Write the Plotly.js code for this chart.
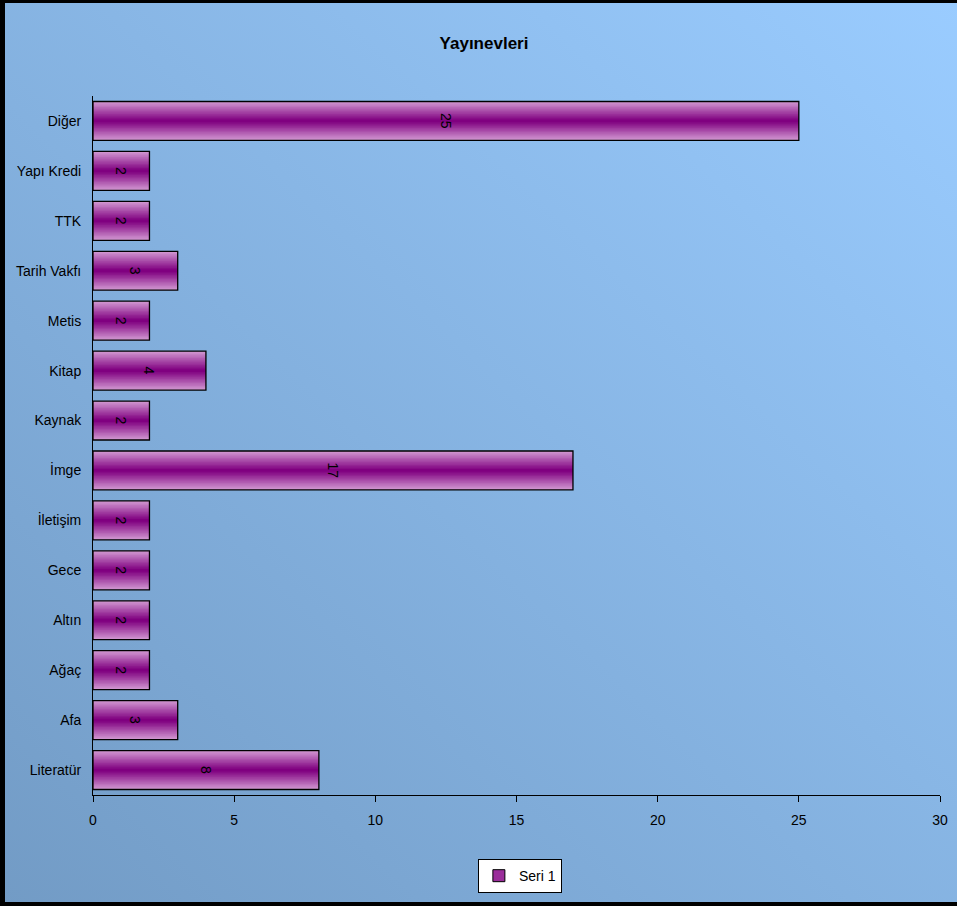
<!DOCTYPE html>
<html>
<head>
<meta charset="utf-8">
<script src="https://cdn.plot.ly/plotly-3.0.1.min.js"></script>
<style>
  html, body { margin: 0; padding: 0; }
  body { width: 957px; height: 906px; overflow: hidden;
         background: linear-gradient(to top right, #729BC5, #9ACCFF); }
  #chart { width: 957px; height: 906px; position: absolute; left: 0; top: 0; }
  #frame { position: absolute; left: 0; top: 0; width: 957px; height: 906px; box-sizing: border-box;
           border-left: 5px solid #000; border-top: 3px solid #000; border-bottom: 4px solid #000;
           pointer-events: none; }
</style>
</head>
<body>
<div id="chart"></div>
<div id="frame"></div>
<script>
// ---- data ----
const categories = ["Literatür", "Afa", "Ağaç", "Altın", "Gece", "İletişim", "İmge",
                    "Kaynak", "Kitap", "Metis", "Tarih Vakfı", "TTK", "Yapı Kredi", "Diğer"];
const values = [8, 3, 2, 2, 2, 2, 17, 2, 4, 2, 3, 2, 2, 25];
const seriesName = "Seri 1";
const xTickValues = [0, 5, 10, 15, 20, 25, 30];
const chartTitle = "Yayınevleri";

// ---- style ----
const FONT = "'Liberation Sans Narrow', 'Arial Narrow', 'Liberation Sans', Arial, sans-serif";
const barWidth = 0.78;
const layers = 14;
const edgeColor = [208, 150, 208];
const centerColor = [128, 0, 128];

function mix(t) {
  const c = edgeColor.map((e, i) => Math.round(e + (centerColor[i] - e) * t));
  return `rgb(${c[0]},${c[1]},${c[2]})`;
}

const traces = [];
for (let k = 0; k < layers; k++) {
  const t = k / (layers - 1);
  traces.push({
    type: 'bar', orientation: 'h',
    x: values, y: categories,
    width: barWidth * (1 - k / layers),
    marker: { color: mix(t), line: { width: 0 } },
    showlegend: false, hoverinfo: 'skip'
  });
}
// outline + value labels
traces.push({
  type: 'bar', orientation: 'h',
  x: values, y: categories,
  width: barWidth,
  marker: { color: 'rgba(0,0,0,0)', line: { color: '#000', width: 1.3 } },
  text: values.map(String),
  textposition: 'inside',
  insidetextanchor: 'middle',
  textangle: 90,
  constraintext: 'none',
  insidetextfont: { family: FONT, size: 14, color: '#000' },
  showlegend: false, hoverinfo: 'skip'
});
// legend entry
traces.push({
  type: 'bar', orientation: 'h',
  x: [null], y: [null],
  name: seriesName,
  marker: { color: '#9A2D9A', line: { color: '#000', width: 1 } },
  showlegend: true, hoverinfo: 'skip'
});

const layout = {
  width: 957, height: 906,
  paper_bgcolor: 'rgba(0,0,0,0)',
  plot_bgcolor: 'rgba(0,0,0,0)',
  margin: { l: 93, r: 17, t: 96, b: 111 },
  barmode: 'overlay',
  title: {
    text: '<b>' + chartTitle + '</b>',
    font: { family: FONT, size: 17, color: '#000' },
    x: 484 / 957, xref: 'container', xanchor: 'center',
    y: 1 - 43 / 906, yref: 'container', yanchor: 'middle'
  },
  xaxis: {
    range: [0, 30], tickvals: xTickValues, ticktext: xTickValues.map(String),
    showgrid: false, zeroline: false,
    showline: true, linecolor: '#000', linewidth: 1,
    ticks: 'outside', ticklen: 6, tickcolor: '#000', tickwidth: 1,
    ticklabelstandoff: 6,
    tickfont: { family: FONT, size: 14, color: '#000' },
    fixedrange: true
  },
  yaxis: {
    type: 'category', categoryorder: 'array', categoryarray: categories,
    range: [-0.5, categories.length - 0.5],
    showgrid: false, zeroline: false,
    showline: true, linecolor: '#000', linewidth: 1,
    ticks: '', ticklabelstandoff: 8,
    tickfont: { family: FONT, size: 14, color: '#000' },
    fixedrange: true
  },
  legend: {
    x: 0.504, xanchor: 'center', y: -0.116, yanchor: 'middle',
    bgcolor: '#fff', bordercolor: '#000', borderwidth: 1,
    font: { family: FONT, size: 14, color: '#000' },
    itemwidth: 30, orientation: 'h'
  },
  showlegend: true
};

Plotly.newPlot('chart', traces, layout, { displayModeBar: false, staticPlot: true });
</script>
</body>
</html>
